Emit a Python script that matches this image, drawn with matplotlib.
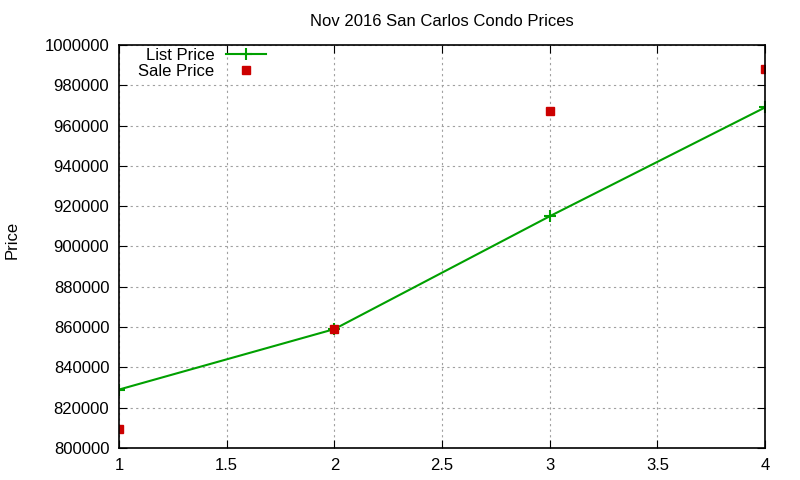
import matplotlib
matplotlib.use("Agg")
import matplotlib.pyplot as plt

x = [1, 2, 3, 4]
list_price = [829000, 859000, 915000, 969000]
sale_price = [809500, 859000, 967000, 988000]

plt.rcParams['font.family'] = ['Liberation Sans', 'DejaVu Sans']

fig = plt.figure(figsize=(8, 4.8), dpi=100)
ax = fig.add_axes([119 / 800, 1 - 448 / 480, (765 - 119) / 800, (448 - 45) / 480])

ax.plot(x, list_price, color='#00a000', linewidth=1.5, marker='+',
        markersize=8, markeredgewidth=1.5, label='List Price')
ax.plot(x, sale_price, linestyle='none', marker='s', markersize=6,
        color='#cc0000', label='Sale Price')

ax.set_xlim(1, 4)
ax.set_ylim(800000, 1000000)
ax.set_xticks([1, 1.5, 2, 2.5, 3, 3.5, 4])
ax.set_xticklabels(['1', '1.5', '2', '2.5', '3', '3.5', '4'])
ax.set_yticks(range(800000, 1000001, 20000))
ax.set_yticklabels([str(v) for v in range(800000, 1000001, 20000)])
ax.tick_params(direction='in', length=6, top=True, right=True, labelsize=12, pad=7)
ax.grid(True, color='#a0a0a0', linestyle=(0, (2, 3)), linewidth=0.8)
for s in ax.spines.values():
    s.set_linewidth(1.2)

ax.set_title('Nov 2016 San Carlos Condo Prices', fontsize=12, pad=14)
fig.text(12 / 800, 0.5, 'Price', rotation=90, ha='center', va='center', fontsize=12)

leg = ax.legend(loc='upper right', bbox_to_anchor=(0.248, 1.025), frameon=False,
                markerfirst=False, fontsize=12, handlelength=2.4,
                borderpad=0.3, labelspacing=0.05, handletextpad=0.7)
for t in leg.get_texts():
    t.set_ha('right')
leg._legend_box.align = 'right'

fig.savefig('out.png', dpi=100)
